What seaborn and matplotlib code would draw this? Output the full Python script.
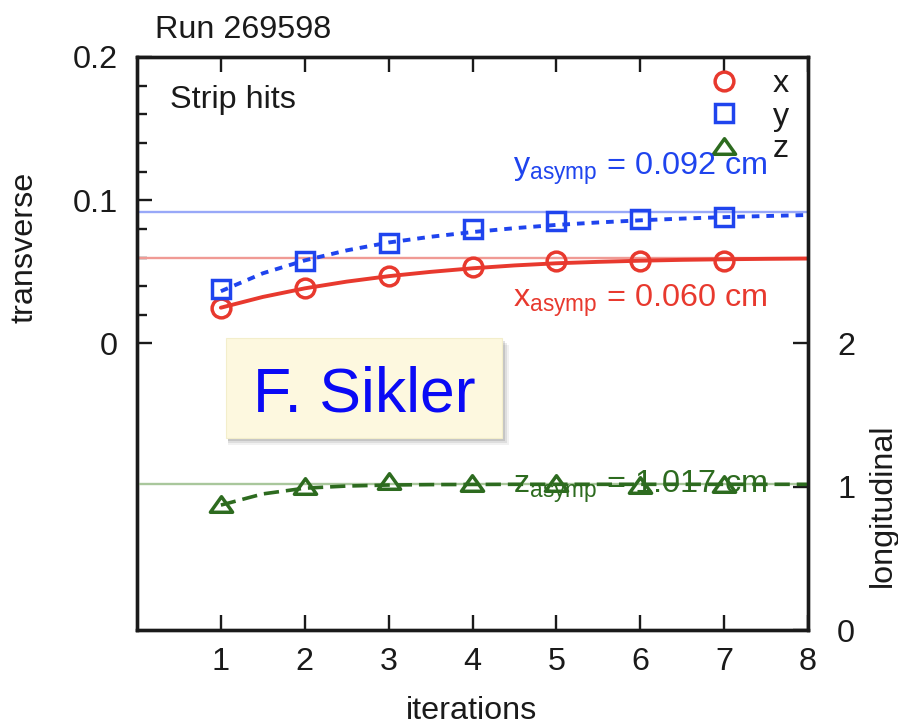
import numpy as np
import pandas as pd
import matplotlib
matplotlib.use("Agg")
import matplotlib.pyplot as plt
from matplotlib.lines import Line2D
from matplotlib.patches import Rectangle
from matplotlib.path import Path
import seaborn as sns

# ---------------- data ----------------
iterations = [1, 2, 3, 4, 5, 6, 7]
x_vals = [0.0250, 0.0388, 0.0470, 0.0535, 0.0574, 0.0577, 0.0577]
y_vals = [0.0379, 0.0574, 0.0705, 0.0798, 0.0856, 0.0872, 0.0884]
z_vals = [0.877, 1.005, 1.042, 1.023, 1.028, 1.012, 1.018]

fit_x = [1, 1.5, 2, 2.5, 3, 3.5, 4, 4.5, 5, 5.5, 6, 6.5, 7, 7.5, 8]
fit_xc = [0.0250, 0.0325, 0.0385, 0.0432, 0.0470, 0.0500, 0.0525, 0.0545,
          0.0560, 0.0570, 0.0578, 0.0584, 0.0588, 0.0591, 0.0593]
fit_yc = [0.0365, 0.0490, 0.0580, 0.0650, 0.0705, 0.0745, 0.0778, 0.0805,
          0.0828, 0.0845, 0.0860, 0.0872, 0.0882, 0.0890, 0.0897]
fit_zc = [0.872, 0.950, 0.990, 1.005, 1.012, 1.015, 1.016, 1.017,
          1.017, 1.017, 1.017, 1.017, 1.017, 1.017, 1.017]

x_asymp = 0.060
y_asymp = 0.092
z_asymp = 1.017

x_ticks = [1, 2, 3, 4, 5, 6, 7, 8]
left_ticks = [0, 0.1, 0.2]
left_minor = [0.02, 0.04, 0.06, 0.08, 0.12, 0.14, 0.16, 0.18]
right_ticks = [0, 1, 2]

# ---------------- style ----------------
sns.set_theme(style="white")
plt.rcParams['font.family'] = ['Liberation Sans', 'DejaVu Sans']
plt.rcParams['mathtext.fontset'] = 'custom'
plt.rcParams['mathtext.rm'] = 'Liberation Sans'
plt.rcParams['lines.scale_dashes'] = False

RED = '#e8392e'
BLUE = '#1f44ee'
GREEN = '#2d6b1f'
RED_L = '#f09a94'
BLUE_L = '#98a8f8'
GREEN_L = '#a9c79c'
INK = '#1a1a1a'
FS = 23.3

W, H = 898, 725
def P(px, py):
    return (px / W, 1 - py / H)

fig = plt.figure(figsize=(W / 100, H / 100), dpi=100)
L, R, T, B = 137, 808, 57, 630
ax = fig.add_axes([L / W, 1 - B / H, (R - L) / W, (B - T) / H])
ax2 = ax.twinx()

ax.set_xlim(0, 8)
ax.set_ylim(-0.2, 0.2)
ax2.set_ylim(0, 4)

df_pts = pd.DataFrame({'it': iterations, 'x': x_vals, 'y': y_vals, 'z': z_vals})
df_fit = pd.DataFrame({'it': fit_x, 'x': fit_xc, 'y': fit_yc, 'z': fit_zc})

# asymptote reference lines
ax.axhline(y_asymp, color=BLUE_L, lw=1.7, zorder=1)
ax.axhline(x_asymp, color=RED_L, lw=1.7, zorder=1)
ax2.axhline(z_asymp, color=GREEN_L, lw=1.7, zorder=1)

# fitted curves
sns.lineplot(data=df_fit, x='it', y='x', ax=ax, color=RED, lw=2.8, zorder=2)
sns.lineplot(data=df_fit, x='it', y='y', ax=ax, color=BLUE, lw=2.8,
             linestyle=(0, (5.5, 5.0)), zorder=2)
sns.lineplot(data=df_fit, x='it', y='z', ax=ax2, color=GREEN, lw=2.6,
             linestyle=(0, (11, 5.0)), zorder=2)

tri = Path([(-1, -0.7), (1, -0.7), (0, 0.7), (-1, -0.7)],
           [Path.MOVETO, Path.LINETO, Path.LINETO, Path.CLOSEPOLY])

MS_O, MS_S, MS_T, MEW = 13.5, 12.5, 16, 2.5

# data points
sns.lineplot(data=df_pts, x='it', y='x', ax=ax, linestyle='none', marker='o',
             ms=MS_O, mfc='none', mec=RED, mew=MEW, color=RED, zorder=3)
sns.lineplot(data=df_pts, x='it', y='y', ax=ax, linestyle='none', marker='s',
             ms=MS_S, mfc='none', mec=BLUE, mew=MEW, color=BLUE, zorder=3)
sns.lineplot(data=df_pts, x='it', y='z', ax=ax2, linestyle='none', marker=tri,
             ms=MS_T, mfc='none', mec=GREEN, mew=MEW, color=GREEN, zorder=3)

# axes / ticks
for a in (ax, ax2):
    a.set_xlabel('')
    a.set_ylabel('')
    for s in a.spines.values():
        s.set_linewidth(2.4)
        s.set_color(INK)

ax.set_xticks(x_ticks)
ax.set_xticklabels([str(t) for t in x_ticks])
ax.set_yticks(left_ticks)
ax.set_yticklabels(['0', '0.1', '0.2'])
ax.set_yticks(left_minor, minor=True)
ax.tick_params(axis='x', which='major', direction='in', length=11, width=1.7,
               top=True, bottom=True, pad=12, labelsize=FS, colors=INK)
ax.tick_params(axis='y', which='major', direction='in', length=11, width=1.7,
               left=True, right=False, pad=14, labelsize=FS, colors=INK)
ax.tick_params(axis='y', which='minor', direction='in', length=7.5, width=1.7,
               left=True, right=False, colors=INK)

ax2.set_yticks(right_ticks)
ax2.set_yticklabels([str(t) for t in right_ticks])
ax2.tick_params(axis='y', which='major', direction='in', length=11, width=1.7,
                left=False, right=True, pad=21, labelsize=FS, colors=INK)
ax2.tick_params(axis='y', which='minor', left=False, right=False)

# legend
handles = [
    Line2D([], [], linestyle='none', marker='o', ms=MS_O, mfc='none', mec=RED, mew=MEW),
    Line2D([], [], linestyle='none', marker='s', ms=MS_S, mfc='none', mec=BLUE, mew=MEW),
    Line2D([], [], linestyle='none', marker=tri, ms=MS_T, mfc='none', mec=GREEN, mew=MEW),
]
leg = ax2.legend(handles, ['x', 'y', 'z'], loc='upper right',
                 bbox_to_anchor=(0.972, 0.979), frameon=False, fontsize=FS,
                 handlelength=1.0, handletextpad=1.0, labelspacing=0.08,
                 borderpad=0, borderaxespad=0)
for t in leg.get_texts():
    t.set_color(INK)
leg.set_zorder(5)

# texts
fig.text(*P(155, 38), 'Run 269598', fontsize=FS, ha='left', va='baseline', color=INK)
fig.text(*P(170, 108), 'Strip hits', fontsize=FS, ha='left', va='baseline', color=INK)
fig.text(*P(513, 175), r'y$_{\mathregular{asymp}}$ = 0.092 cm', fontsize=FS,
         ha='left', va='baseline', color=BLUE, zorder=6)
fig.text(*P(513, 307), r'x$_{\mathregular{asymp}}$ = 0.060 cm', fontsize=FS,
         ha='left', va='baseline', color=RED, zorder=6)
fig.text(*P(513, 493), r'z$_{\mathregular{asymp}}$ = 1.017 cm', fontsize=FS,
         ha='left', va='baseline', color=GREEN, zorder=6)

fig.text(*P(25, 247), 'transverse', fontsize=FS, rotation=90, ha='center',
         va='center', color=INK)
fig.text(*P(883, 505), 'longitudinal', fontsize=FS, rotation=90, ha='center',
         va='center', color=INK)
fig.text(*P(472, 719), 'iterations', fontsize=FS, ha='center', va='baseline',
         color=INK)

# sticky note "F. Sikler"
bx0, by0, bx1, by1 = 226, 338, 502, 438
for i, al in enumerate([0.08, 0.12, 0.18]):
    off = 7 - 2 * i
    sh = Rectangle(P(bx0 + 2, by1 + off), (bx1 - bx0 + off - 2) / W, (by1 - by0) / H,
                   transform=fig.transFigure, facecolor='#555555', edgecolor='none',
                   alpha=al, zorder=20)
    fig.add_artist(sh)
note = Rectangle(P(bx0, by1), (bx1 - bx0) / W, (by1 - by0) / H,
                 transform=fig.transFigure, facecolor='#fdf8df',
                 edgecolor='#f3eecb', lw=0.8, zorder=21)
fig.add_artist(note)
fig.text(*P((bx0 + bx1) / 2, 412), 'F. Sikler', fontsize=45, ha='center',
         va='baseline', color='#0a0af5', zorder=22)

fig.savefig('out.png', dpi=100)
